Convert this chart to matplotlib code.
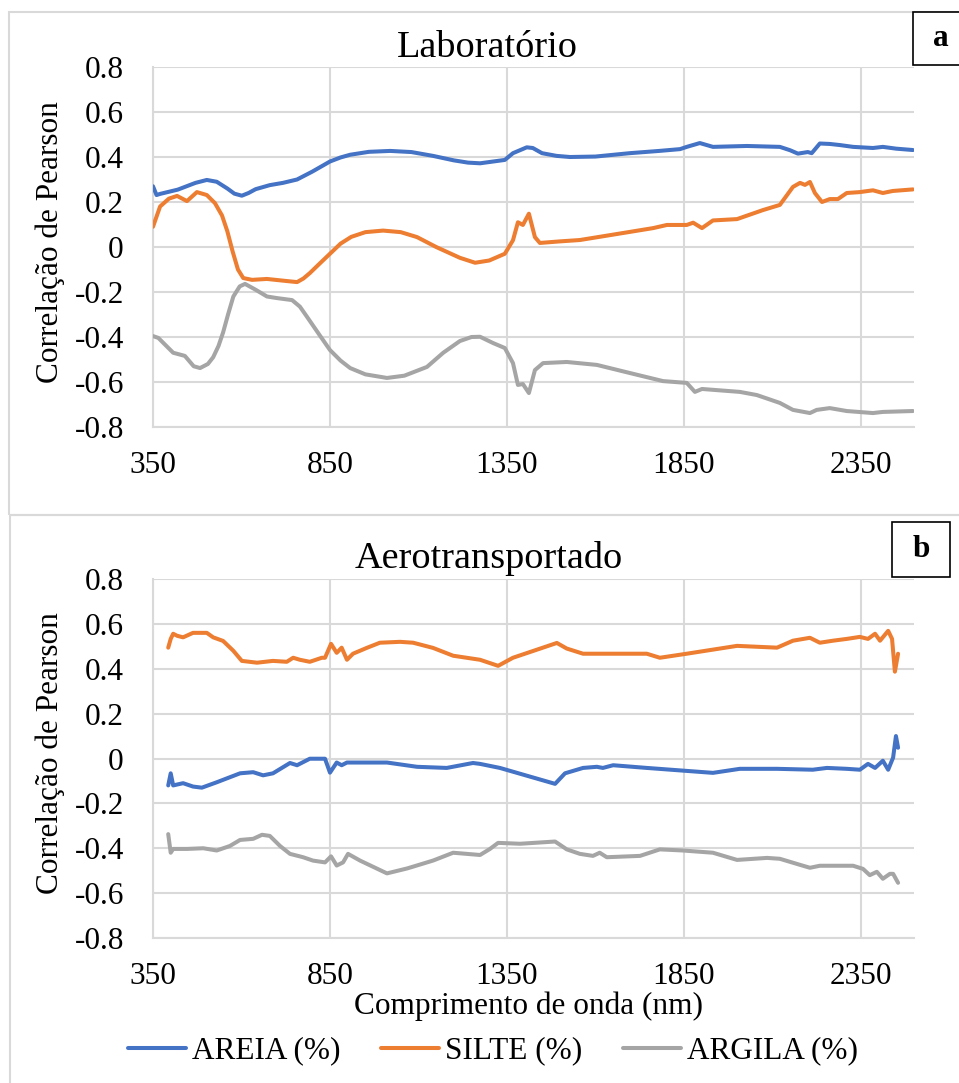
import matplotlib
matplotlib.use("Agg")
import matplotlib.pyplot as plt
from matplotlib.patches import Rectangle

plt.rcParams['font.family'] = ['Liberation Serif', 'DejaVu Serif']

# ---------------- data: panel a (Laboratório) ----------------
lab_areia_wl = [350, 360, 370, 420, 470, 502, 530, 560, 580, 601, 620, 640, 680, 717, 757, 800,
                850, 880, 907, 960, 1020, 1080, 1141, 1200, 1240, 1274, 1344, 1367, 1406, 1423,
                1449, 1490, 1528, 1600, 1697, 1780, 1839, 1858, 1895, 1932, 2028, 2121, 2150,
                2172, 2200, 2211, 2234, 2262, 2291, 2328, 2384, 2412, 2450, 2497]
lab_areia = [0.27, 0.231, 0.236, 0.255, 0.285, 0.298, 0.29, 0.26, 0.237, 0.228, 0.24, 0.257,
             0.275, 0.285, 0.30, 0.335, 0.38, 0.398, 0.41, 0.423, 0.427, 0.422, 0.405, 0.385,
             0.375, 0.372, 0.387, 0.417, 0.443, 0.44, 0.417, 0.405, 0.40, 0.402, 0.417, 0.427,
             0.435, 0.445, 0.462, 0.445, 0.449, 0.445, 0.43, 0.415, 0.422, 0.417, 0.46, 0.458,
             0.453, 0.445, 0.44, 0.445, 0.437, 0.431]

lab_silte_wl = [350, 370, 395, 418, 446, 474, 502, 525, 545, 560, 575, 590, 605, 630, 672, 720,
                757, 775, 793, 820, 850, 880, 910, 950, 1000, 1050, 1096, 1150, 1217, 1260, 1300,
                1344, 1367, 1381, 1395, 1412, 1429, 1443, 1500, 1556, 1650, 1763, 1802, 1858,
                1876, 1901, 1932, 2000, 2073, 2121, 2158, 2178, 2192, 2206, 2220, 2240, 2262,
                2285, 2310, 2347, 2384, 2412, 2440, 2497]
lab_silte = [0.09, 0.18, 0.215, 0.227, 0.204, 0.244, 0.231, 0.195, 0.14, 0.07, -0.02, -0.1,
             -0.138, -0.146, -0.142, -0.15, -0.156, -0.14, -0.116, -0.075, -0.03, 0.015, 0.045,
             0.066, 0.073, 0.066, 0.044, 0.0, -0.048, -0.07, -0.06, -0.03, 0.03, 0.11, 0.098,
             0.148, 0.044, 0.018, 0.025, 0.031, 0.055, 0.084, 0.098, 0.098, 0.108, 0.084, 0.118,
             0.124, 0.164, 0.187, 0.267, 0.285, 0.276, 0.289, 0.24, 0.2, 0.213, 0.213, 0.24,
             0.244, 0.252, 0.24, 0.249, 0.256]

lab_argila_wl = [350, 365, 407, 440, 465, 483, 505, 520, 535, 548, 562, 577, 595, 610, 640, 672,
                 700, 743, 765, 785, 820, 850, 880, 907, 950, 1011, 1060, 1124, 1170, 1217,
                 1250, 1274, 1311, 1344, 1367, 1381, 1395, 1412, 1429, 1452, 1519, 1604, 1697,
                 1791, 1858, 1881, 1901, 2008, 2056, 2121, 2158, 2206, 2225, 2262, 2310, 2384,
                 2412, 2497]
lab_argila = [-0.396, -0.404, -0.47, -0.484, -0.53, -0.538, -0.52, -0.49, -0.44, -0.38, -0.3,
              -0.22, -0.175, -0.164, -0.19, -0.22, -0.227, -0.236, -0.265, -0.31, -0.39, -0.458,
              -0.505, -0.538, -0.566, -0.582, -0.572, -0.533, -0.47, -0.418, -0.4, -0.399,
              -0.427, -0.449, -0.516, -0.613, -0.609, -0.649, -0.547, -0.516, -0.511, -0.524,
              -0.56, -0.596, -0.604, -0.644, -0.631, -0.644, -0.658, -0.693, -0.724, -0.738,
              -0.724, -0.716, -0.729, -0.738, -0.733, -0.729]

# ---------------- data: panel b (Aerotransportado) ----------------
aer_areia_wl = [393, 400, 407, 435, 463, 488, 530, 596, 633, 661, 689, 737, 757, 793, 836, 850,
                869, 883, 898, 1011, 1096, 1180, 1254, 1274, 1330, 1486, 1514, 1565, 1604, 1621,
                1650, 1745, 1932, 2008, 2113, 2214, 2254, 2310, 2347, 2370, 2390, 2412, 2427,
                2441, 2449, 2455]
aer_areia = [-0.12, -0.066, -0.12, -0.11, -0.125, -0.13, -0.106, -0.066, -0.061, -0.075, -0.066,
             -0.02, -0.03, -0.001, -0.001, -0.063, -0.018, -0.03, -0.018, -0.018, -0.037, -0.042,
             -0.02, -0.024, -0.042, -0.113, -0.066, -0.042, -0.037, -0.042, -0.03, -0.042,
             -0.064, -0.046, -0.046, -0.05, -0.042, -0.046, -0.05, -0.024, -0.042, -0.01, -0.05,
             0.004, 0.1, 0.048]

aer_silte_wl = [393, 400, 407, 418, 435, 463, 502, 520, 548, 577, 601, 644, 689, 728, 746, 765,
                793, 827, 836, 853, 869, 883, 898, 915, 954, 991, 1048, 1085, 1141, 1198, 1274,
                1325, 1367, 1491, 1519, 1565, 1650, 1745, 1782, 1858, 2000, 2113, 2158, 2206,
                2234, 2271, 2310, 2347, 2370, 2390, 2404, 2427, 2438, 2446, 2455]
aer_silte = [0.494, 0.533, 0.556, 0.547, 0.54, 0.56, 0.56, 0.54, 0.524, 0.48, 0.435, 0.427,
             0.435, 0.431, 0.449, 0.44, 0.431, 0.449, 0.449, 0.511, 0.471, 0.494, 0.44, 0.467,
             0.493, 0.516, 0.52, 0.516, 0.493, 0.458, 0.44, 0.413, 0.449, 0.515, 0.49, 0.467,
             0.467, 0.467, 0.449, 0.467, 0.502, 0.494, 0.525, 0.538, 0.516, 0.525, 0.533, 0.542,
             0.533, 0.556, 0.525, 0.569, 0.533, 0.387, 0.467]

aer_argila_wl = [393, 400, 407, 446, 492, 530, 567, 596, 633, 658, 680, 709, 737, 774, 802, 836,
                 853, 869, 887, 901, 935, 1011, 1068, 1141, 1198, 1274, 1302, 1325, 1387, 1486,
                 1519, 1556, 1593, 1612, 1632, 1726, 1782, 1847, 1932, 2000, 2085, 2121, 2178,
                 2206, 2234, 2291, 2328, 2356, 2375, 2395, 2412, 2432, 2441, 2455]
aer_argila = [-0.337, -0.42, -0.403, -0.403, -0.40, -0.41, -0.39, -0.363, -0.358, -0.34, -0.345,
              -0.39, -0.425, -0.44, -0.455, -0.463, -0.436, -0.477, -0.463, -0.425, -0.455,
              -0.512, -0.49, -0.455, -0.42, -0.43, -0.403, -0.376, -0.38, -0.37, -0.405, -0.425,
              -0.434, -0.42, -0.44, -0.434, -0.405, -0.41, -0.42, -0.452, -0.443, -0.447, -0.474,
              -0.487, -0.478, -0.478, -0.478, -0.492, -0.52, -0.505, -0.536, -0.514, -0.514,
              -0.554]

series_names = ['AREIA (%)', 'SILTE (%)', 'ARGILA (%)']
series_colors = ['#4472C4', '#ED7D31', '#A5A5A5']
x_ticks = [350, 850, 1350, 1850, 2350]
y_ticks = [-0.8, -0.6, -0.4, -0.2, 0, 0.2, 0.4, 0.6, 0.8]
y_tick_labels = ['-0.8', '-0.6', '-0.4', '-0.2', '0', '0.2', '0.4', '0.6', '0.8']
titles = ['Laboratório', 'Aerotransportado']
panel_letters = ['a', 'b']

W, H = 959, 1083
fig = plt.figure(figsize=(W / 100, H / 100), dpi=100)


def fx(px):
    return px / W


def fy(py):
    return 1 - py / H


GRID = '#D9D9D9'
FS = 22.5

# panel borders
for (x0, y0, x1, y1) in [(9, 12, 962, 515), (10, 515, 962, 1090)]:
    fig.add_artist(Rectangle((fx(x0), fy(y1)), fx(x1) - fx(x0), fy(y0) - fy(y1),
                             transform=fig.transFigure, fill=False, edgecolor=GRID,
                             linewidth=1.5, zorder=0))

axes_px = [(153, 67, 914, 427), (153, 579, 914, 938)]
data = [
    [(lab_areia_wl, lab_areia), (lab_silte_wl, lab_silte), (lab_argila_wl, lab_argila)],
    [(aer_areia_wl, aer_areia), (aer_silte_wl, aer_silte), (aer_argila_wl, aer_argila)],
]
title_pos = [(487, 48), (489, 558)]
box_px = [(913, 12, 962, 65), (892, 522, 950, 577)]
letter_x = [941, 921]

handles = []
for i, (l, t, r, b) in enumerate(axes_px):
    ax = fig.add_axes([fx(l), fy(b), fx(r) - fx(l), fy(t) - fy(b)])
    for (wl, vals), name, col in zip(data[i], series_names, series_colors):
        ln, = ax.plot(wl, vals, color=col, linewidth=2.9, label=name,
                      solid_joinstyle='round', solid_capstyle='round', zorder=3)
        if i == 0:
            handles.append(ln)
    ax.set_xlim(350, 2500)
    ax.set_ylim(-0.8, 0.8)
    ax.set_xticks(x_ticks)
    ax.set_yticks(y_ticks)
    ax.set_yticklabels(y_tick_labels)
    ax.grid(True, color=GRID, linewidth=1.5, zorder=0)
    ax.set_axisbelow(True)
    for s in ['top', 'right']:
        ax.spines[s].set_visible(False)
    for s in ['left', 'bottom']:
        ax.spines[s].set_color(GRID)
        ax.spines[s].set_linewidth(1.5)
    ax.tick_params(axis='both', length=0, labelsize=FS)
    ax.tick_params(axis='y', pad=21)
    ax.tick_params(axis='x', pad=17)
    fig.text(fx(50), fy((t + b) / 2 - 5), 'Correlação de Pearson', rotation=90,
             ha='center', va='center', fontsize=FS)
    fig.text(fx(title_pos[i][0]), fy(title_pos[i][1]), titles[i], ha='center', va='center',
             fontsize=27.5)
    x0, y0, x1, y1 = box_px[i]
    fig.add_artist(Rectangle((fx(x0), fy(y1)), fx(x1) - fx(x0), fy(y0) - fy(y1),
                             transform=fig.transFigure, facecolor='white', edgecolor='black',
                             linewidth=1.2, zorder=5))
    fig.text(fx(letter_x[i]), fy((y0 + y1) / 2), panel_letters[i],
             ha='center', va='center', fontsize=FS, fontweight='bold', zorder=6)

fig.text(fx(528), fy(1006), 'Comprimento de onda (nm)', ha='center', va='center', fontsize=FS)

fig.legend(handles=handles, labels=series_names, loc='center', ncol=3,
           bbox_to_anchor=(fx(493), fy(1051)), frameon=False, fontsize=FS,
           handlelength=1.85, handletextpad=0.2, columnspacing=1.3)

fig.savefig('out.png', dpi=100)
